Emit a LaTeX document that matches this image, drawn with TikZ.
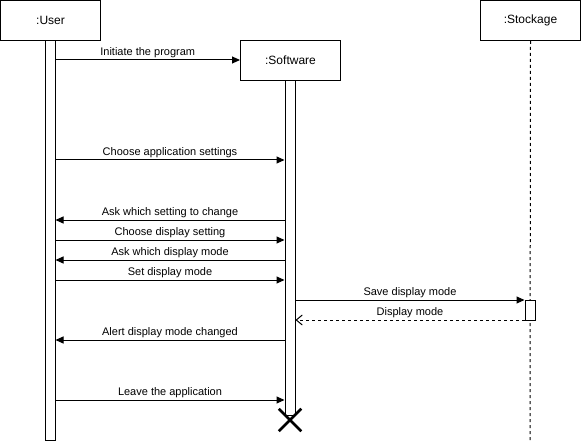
\documentclass[tikz,border=0pt]{standalone}
\usepackage{fontspec}
\setmainfont{Liberation Sans}
\usetikzlibrary{arrows.meta,shapes.misc}
\begin{document}
\begin{tikzpicture}[x=1pt,y=-1pt,
  lbox/.style={draw,line width=1pt,fill=white,minimum width=100pt,minimum height=40pt,inner sep=0pt,anchor=north west,font=\fontsize{12}{14}\selectfont},
  bar/.style={draw,line width=1pt,fill=white,minimum width=10pt,inner sep=0pt,anchor=north},
  msg/.style={line width=1pt,-{Triangle[length=8pt,width=7pt]}},
  ret/.style={line width=1pt,dash pattern=on 3pt off 3pt,-{Straight Barb[length=6pt,width=10pt]}},
  lbl/.style={midway,above,inner sep=2pt,font=\fontsize{11}{13}\selectfont}]
\useasboundingbox (0,0) rectangle (581,441);
% lifelines
\node[lbox] (user) at (0,0) {:User};
\node[bar,minimum height=400pt] (ubar) at (50,40) {};
\node[lbox] (sw) at (240,40) {:Software};
\node[bar,minimum height=335pt] (sbar) at (290,80) {};
\node[lbox] (stock) at (480,0) {:Stockage};
\coordinate (stend) at (530,440);
\draw[line width=1pt,dash pattern=on 3pt off 3pt] (stock.south) -- (stend);
\node[bar,minimum height=20pt] (stbar) at (530,300) {};
\node[cross out,draw,line width=2.5pt,minimum size=20pt,inner sep=0pt] (kill) at (290,420) {};
% messages
\draw[msg] (ubar.east |- 0,60) -- node[lbl] {Initiate the program} (sw.west |- 0,60);
\draw[msg] (ubar.east |- 0,160) -- node[lbl] {Choose application settings} (sbar.west |- 0,160);
\draw[msg] (sbar.west |- 0,220) -- node[lbl] {Ask which setting to change} (ubar.east |- 0,220);
\draw[msg] (ubar.east |- 0,240) -- node[lbl] {Choose display setting} (sbar.west |- 0,240);
\draw[msg] (sbar.west |- 0,260) -- node[lbl] {Ask which display mode} (ubar.east |- 0,260);
\draw[msg] (ubar.east |- 0,280) -- node[lbl] {Set display mode} (sbar.west |- 0,280);
\draw[msg] (sbar.east |- 0,300) -- node[lbl] {Save display mode} (stbar.west |- 0,300);
\draw[ret] (stbar.west |- 0,320) -- node[lbl] {Display mode} (sbar.east |- 0,320);
\draw[msg] (sbar.west |- 0,340) -- node[lbl] {Alert display mode changed} (ubar.east |- 0,340);
\draw[msg] (ubar.east |- 0,400) -- node[lbl] {Leave the application} (sbar.west |- 0,400);
\end{tikzpicture}
\end{document}
